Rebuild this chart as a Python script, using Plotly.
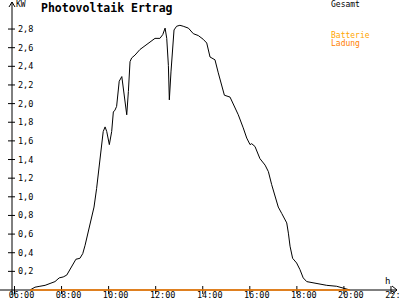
import plotly.graph_objects as go

# ---- data ----
hours = [6.66, 6.87, 7.08, 7.30, 7.51, 7.72, 7.90, 8.07, 8.22, 8.36, 8.50, 8.61, 8.78, 8.90,
         9.00, 9.14, 9.28, 9.38, 9.49, 9.63, 9.77, 9.85, 9.92, 10.03, 10.13, 10.20, 10.27,
         10.34, 10.45, 10.56, 10.62, 10.70, 10.77, 10.84, 10.91, 10.98, 11.12, 11.33, 11.62,
         11.97, 12.18, 12.30, 12.40, 12.47, 12.54, 12.58, 12.65, 12.72, 12.78, 12.89, 13.03,
         13.17, 13.39, 13.60, 13.81, 14.02, 14.17, 14.31, 14.52, 14.66, 14.81, 14.92, 15.16,
         15.30, 15.51, 15.72, 15.87, 16.01, 16.08, 16.22, 16.36, 16.43, 16.65, 16.79, 16.93,
         17.07, 17.21, 17.36, 17.57, 17.64, 17.71, 17.82, 17.99, 18.13, 18.27, 18.42, 18.84,
         19.27, 19.69, 19.97, 20.26]
gesamt_kw = [0.00, 0.03, 0.04, 0.05, 0.07, 0.09, 0.13, 0.14, 0.16, 0.22, 0.29, 0.33, 0.34, 0.39,
             0.48, 0.64, 0.79, 0.89, 1.09, 1.41, 1.70, 1.75, 1.70, 1.56, 1.70, 1.91, 1.93,
             1.97, 2.24, 2.29, 2.16, 2.02, 1.88, 2.13, 2.45, 2.49, 2.52, 2.58, 2.63,
             2.70, 2.70, 2.74, 2.81, 2.70, 2.41, 2.04, 2.34, 2.66, 2.79, 2.83, 2.84,
             2.83, 2.81, 2.75, 2.73, 2.69, 2.65, 2.50, 2.47, 2.33, 2.20, 2.09, 2.07,
             2.00, 1.88, 1.74, 1.63, 1.56, 1.57, 1.54, 1.45, 1.41, 1.34, 1.27, 1.13,
             1.00, 0.89, 0.82, 0.72, 0.61, 0.47, 0.34, 0.29, 0.22, 0.13, 0.09, 0.07,
             0.05, 0.04, 0.02, 0.00]
ladung_hours = [6.66, 20.26]
ladung_kw = [0.0, 0.0]

x_tick_vals = [6, 8, 10, 12, 14, 16, 18, 20, 22]
x_tick_text = ["06:00", "08:00", "10:00", "12:00", "14:00", "16:00", "18:00", "20:00", "22:00"]
y_tick_vals = [0.2, 0.4, 0.6, 0.8, 1.0, 1.2, 1.4, 1.6, 1.8, 2.0, 2.2, 2.4, 2.6, 2.8]

title_text = "Photovoltaik Ertrag"
unit_y = "KW"
unit_x = "h"

# ---- layout geometry (pixels) ----
W, H = 400, 300
L, R, T, B = 12, 3, 3, 8
PW, PH = W - L - R, H - T - B


def xp(px):
    return (px - L) / PW


def yp(py):
    return (H - B - py) / PH


MONO = "DejaVu Sans Mono"
BLACK = "#000000"
ORANGE = "#FF8000"
GOLD = "#FFA500"

fig = go.Figure()
fig.add_trace(go.Scatter(x=hours, y=gesamt_kw, mode="lines",
                         line=dict(color=BLACK, width=1), name="Gesamt"))
fig.add_trace(go.Scatter(x=ladung_hours, y=ladung_kw, mode="lines",
                         line=dict(color=ORANGE, width=1.5), name="Ladung"))

shapes = []
# x axis line (extends to the left edge)
shapes.append(dict(type="line", xref="paper", yref="y", x0=xp(0), x1=xp(397), y0=0, y1=0,
                   layer="below", line=dict(color=BLACK, width=1)))
# y axis line
shapes.append(dict(type="line", xref="paper", yref="paper", x0=0, x1=0, y0=yp(295), y1=yp(2),
                   layer="below", line=dict(color=BLACK, width=1)))
# arrow heads
shapes.append(dict(type="path", xref="paper", yref="paper",
                   path=f"M {xp(9)} {yp(7)} L {xp(12)} {yp(2)} L {xp(15)} {yp(7)}",
                   line=dict(color=BLACK, width=1)))
shapes.append(dict(type="path", xref="paper", yref="paper",
                   path=f"M {xp(392)} {yp(286)} L {xp(397)} {yp(290)} L {xp(392)} {yp(294)}",
                   line=dict(color=BLACK, width=1)))
# crossing tick marks
for v in x_tick_vals:
    shapes.append(dict(type="line", xref="x", yref="paper", x0=v, x1=v, y0=yp(294), y1=yp(286),
                       layer="below", line=dict(color=BLACK, width=1)))
for v in y_tick_vals:
    shapes.append(dict(type="line", xref="paper", yref="y", x0=xp(8), x1=xp(15), y0=v, y1=v,
                       line=dict(color=BLACK, width=1)))

annotations = [
    dict(text=f"<b>{title_text}</b>", x=xp(39), y=yp(8), xref="paper", yref="paper",
         xanchor="left", yanchor="middle", showarrow=False,
         font=dict(family=MONO, size=11.5, color=BLACK)),
    dict(text=unit_y, x=xp(14), y=yp(5), xref="paper", yref="paper",
         xanchor="left", yanchor="middle", showarrow=False,
         font=dict(family=MONO, size=8, color=BLACK)),
    dict(text=unit_x, x=xp(387), y=yp(281), xref="paper", yref="paper",
         xanchor="center", yanchor="middle", showarrow=False,
         font=dict(family=MONO, size=9, color=BLACK)),
    dict(text="Gesamt", x=xp(329), y=yp(4.5), xref="paper", yref="paper",
         xanchor="left", yanchor="middle", showarrow=False,
         font=dict(family=MONO, size=8, color=BLACK)),
    dict(text="Batterie", x=xp(329), y=yp(36), xref="paper", yref="paper",
         xanchor="left", yanchor="middle", showarrow=False,
         font=dict(family=MONO, size=8, color=GOLD)),
    dict(text="Ladung", x=xp(329), y=yp(44), xref="paper", yref="paper",
         xanchor="left", yanchor="middle", showarrow=False,
         font=dict(family=MONO, size=8, color=ORANGE)),
]

px_per_h = 23.53
x_at_left = 6 + (L - 14.5) / px_per_h
x_at_right = 6 + (W - R - 14.5) / px_per_h
px_per_kw = 93.2
y_min = -(H - B - 290) / px_per_kw
y_max = (290 - T) / px_per_kw

fig.update_layout(
    width=W, height=H,
    margin=dict(l=L, r=R, t=T, b=B, pad=0, autoexpand=False),
    paper_bgcolor="white", plot_bgcolor="white",
    showlegend=False,
    separators=",.",
    shapes=shapes,
    annotations=annotations,
    font=dict(family=MONO, color=BLACK),
    xaxis=dict(range=[x_at_left, x_at_right], tickmode="array", tickvals=x_tick_vals,
               ticktext=x_tick_text, showgrid=False, zeroline=False, showline=False,
               ticks="", tickfont=dict(family=MONO, size=8.5, color=BLACK),
               ticklabelshift=7, ticklabelstandoff=-4, ticklabeloverflow="allow",
               automargin=False, fixedrange=True),
    yaxis=dict(range=[y_min, y_max], tickmode="array", tickvals=y_tick_vals,
               tickformat=".1f", showgrid=False, zeroline=False, showline=False,
               ticks="", ticklabelposition="inside", ticklabeloverflow="allow",
               ticklabelstandoff=3,
               tickfont=dict(family=MONO, size=8.5, color=BLACK),
               automargin=False, fixedrange=True),
)

fig.write_html("out.html")
